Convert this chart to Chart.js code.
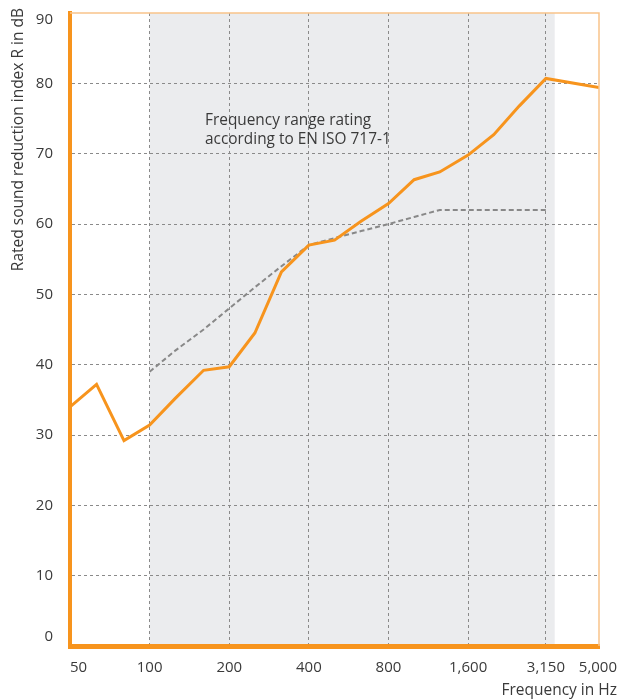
<!DOCTYPE html>
<html>
<head>
<meta charset="utf-8">
<script src="https://cdn.jsdelivr.net/npm/chart.js@4.4.1/dist/chart.umd.min.js"></script>
<style>
  html, body { margin: 0; padding: 0; background: #fff; }
  #wrap { width: 619px; height: 699px; position: relative; }
</style>
</head>
<body>
<div id="wrap"><canvas id="c"></canvas></div>
<script>
// ---- data ----
const freqs    = [50, 63, 80, 100, 125, 160, 200, 250, 315, 400, 500, 630, 800, 1000, 1250, 1600, 2000, 2500, 3150, 5000];
const measured = [34.0, 37.2, 29.2, 31.4, 35.2, 39.2, 39.7, 44.5, 53.2, 57.0, 57.7, 60.4, 62.9, 66.3, 67.4, 69.8, 72.7, 76.8, 80.7, 79.4];
const refFreqs = [100, 125, 160, 200, 250, 315, 400, 500, 630, 800, 1000, 1250, 1600, 2000, 2500, 3150];
const refCurve = [39, 42, 45, 48, 51, 54, 57, 58, 59, 60, 61, 62, 62, 62, 62, 62];
const xTicks = [50, 100, 200, 400, 800, 1600, 3150, 5000];
const xTickLabels = ['50', '100', '200', '400', '800', '1,600', '3,150', '5,000'];
const yTicks = [0, 10, 20, 30, 40, 50, 60, 70, 80, 90];
const bandRange = [100, 3400];
const yTitle = 'Rated sound reduction index R in dB';
const xTitle = 'Frequency in Hz';
const noteLines = ['Frequency range rating', 'according to EN ISO 717-1'];

const ORANGE = '#F7941D';
const LIGHT_ORANGE = '#F9C48A';
const TEXT = '#3a3a3a';
const FONT = '"Open Sans", "DejaVu Sans", sans-serif';

const bandPlugin = {
  id: 'band',
  beforeDraw(chart) {
    const { ctx, chartArea, scales } = chart;
    const x0 = scales.x.getPixelForValue(bandRange[0]);
    const x1 = scales.x.getPixelForValue(bandRange[1]);
    ctx.save();
    ctx.fillStyle = '#EBECEE';
    ctx.fillRect(x0, chartArea.top, x1 - x0, chartArea.bottom - chartArea.top);
    ctx.restore();
  }
};

const textPlugin = {
  id: 'texts',
  afterDraw(chart) {
    const { ctx, chartArea, scales } = chart;
    ctx.save();
    // top and right light border
    ctx.strokeStyle = LIGHT_ORANGE;
    ctx.lineWidth = 1.5;
    ctx.beginPath();
    ctx.moveTo(chartArea.left, chartArea.top);
    ctx.lineTo(chartArea.right, chartArea.top);
    ctx.lineTo(chartArea.right, chartArea.bottom);
    ctx.stroke();

    ctx.fillStyle = TEXT;
    ctx.font = '15px ' + FONT;
    // y tick labels
    ctx.textAlign = 'right';
    ctx.textBaseline = 'middle';
    yTicks.forEach(v => {
      let py = scales.y.getPixelForValue(v);
      py = Math.max(chartArea.top + 7, Math.min(chartArea.bottom - 9, py));
      ctx.fillText(String(v), chartArea.left - 17, py);
    });
    // x tick labels
    ctx.textBaseline = 'middle';
    xTicks.forEach((v, i) => {
      const px = scales.x.getPixelForValue(v);
      const label = xTickLabels[i];
      const w = ctx.measureText(label).width;
      let left = px - w / 2;
      if (left < chartArea.left) left = chartArea.left;
      if (left + w > chart.width - 2) left = chart.width - 2 - w;
      ctx.textAlign = 'left';
      ctx.fillText(label, left, chartArea.bottom + 22);
    });
    // axis titles
    ctx.font = '15.5px ' + FONT;
    ctx.textAlign = 'right';
    ctx.textBaseline = 'alphabetic';
    ctx.fillText(xTitle, chart.width - 2, chart.height - 4);
    ctx.save();
    ctx.translate(23, 8);
    ctx.rotate(-Math.PI / 2);
    ctx.textAlign = 'right';
    ctx.fillText(yTitle, 0, 0);
    ctx.restore();
    // note
    ctx.font = '15.4px ' + FONT;
    ctx.textAlign = 'left';
    noteLines.forEach((t, i) => ctx.fillText(t, 205, 125 + i * 19));
    ctx.restore();
  }
};

new Chart(document.getElementById('c'), {
  type: 'line',
  data: {
    datasets: [
      {
        label: 'Measured',
        data: freqs.map((f, i) => ({ x: f, y: measured[i] })),
        borderColor: ORANGE,
        borderWidth: 3,
        pointRadius: 0,
        tension: 0,
        fill: false
      },
      {
        label: 'Reference',
        data: refFreqs.map((f, i) => ({ x: f, y: refCurve[i] })),
        borderColor: '#888888',
        borderWidth: 2,
        borderDash: [5, 3],
        pointRadius: 0,
        tension: 0,
        fill: false
      }
    ]
  },
  options: {
    responsive: true,
    maintainAspectRatio: false,
    animation: false,
    layout: { padding: { left: 70, top: 13, right: 20, bottom: 53 } },
    plugins: { legend: { display: false }, tooltip: { enabled: false } },
    scales: {
      x: {
        type: 'logarithmic',
        min: 50,
        max: 5000,
        afterBuildTicks: s => { s.ticks = xTicks.map(v => ({ value: v })); },
        ticks: { display: false },
        grid: {
          drawTicks: false,
          color: ctx => (ctx.tick && (ctx.tick.value === 50 || ctx.tick.value === 5000)) ? 'rgba(0,0,0,0)' : '#8a8a8a',
          lineWidth: 1
        },
        border: { display: true, color: ORANGE, width: 5, dash: [3, 3] }
      },
      y: {
        min: 0,
        max: 90,
        afterBuildTicks: s => { s.ticks = yTicks.map(v => ({ value: v })); },
        ticks: { display: false },
        grid: {
          drawTicks: false,
          color: ctx => (ctx.tick && (ctx.tick.value === 0 || ctx.tick.value === 90)) ? 'rgba(0,0,0,0)' : '#8a8a8a',
          lineWidth: 1
        },
        border: { display: true, color: ORANGE, width: 4, dash: [3, 3] }
      }
    }
  },
  plugins: [bandPlugin, textPlugin]
});
</script>
</body>
</html>
